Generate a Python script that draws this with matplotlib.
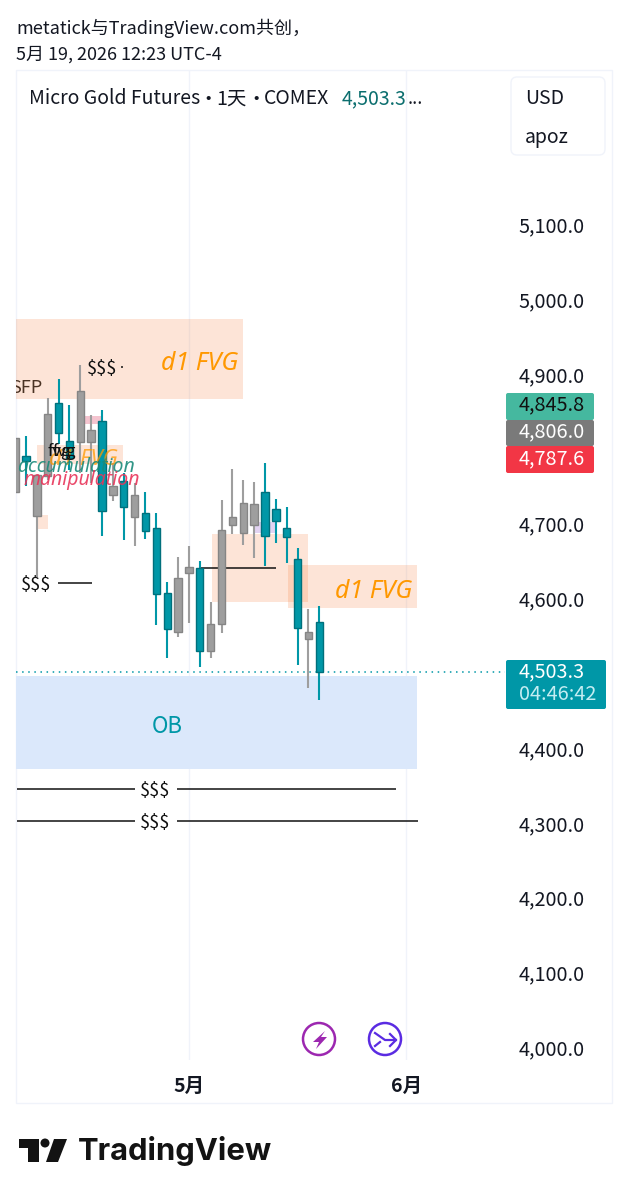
import numpy as np
import matplotlib
matplotlib.use('Agg')
import matplotlib.pyplot as plt
from matplotlib.patches import Rectangle, FancyBboxPatch, Circle, Polygon
from matplotlib.transforms import ScaledTranslation

plt.rcParams['font.family'] = ['Noto Sans CJK SC', 'DejaVu Sans']

# daily candles, index 15 = 1 May, index 35 = 1 June
opens = [4744, 4792, 4712, 4766, 4863, 4813, 4811, 4812, 4840, 4740, 4759, 4711, 4717, 4697, 4610,
         4557, 4636, 4643, 4532, 4568, 4701, 4690, 4701, 4745, 4722, 4696, 4655, 4548, 4571]
highs = [4817, 4820, 4767, 4870, 4896, 4861, 4914, 4848, 4854, 4783, 4770, 4757, 4745, 4717, 4624,
         4658, 4672, 4652, 4597, 4734, 4775, 4760, 4758, 4783, 4735, 4725, 4669, 4588, 4592]
lows = [4744, 4753, 4631, 4760, 4809, 4774, 4770, 4757, 4686, 4733, 4680, 4672, 4682, 4567, 4523,
        4551, 4570, 4510, 4522, 4556, 4689, 4673, 4656, 4645, 4676, 4649, 4513, 4483, 4467]
closes = [4817, 4786, 4767, 4849, 4824, 4790, 4879, 4828, 4719, 4752, 4724, 4740, 4693, 4608, 4561,
          4629, 4644, 4532, 4568, 4694, 4711, 4730, 4728, 4686, 4706, 4685, 4562, 4557, 4503.3]

last_price = 4503.3
price_ticks = [4000, 4100, 4200, 4300, 4400, 4600, 4700, 4900, 5000, 5100]
month_ticks = [15, 35]
month_labels = ['5月', '6月']

# zones: left, right, low, high
fvg_zones = [(-1, 20, 4869, 4976), (24.1, 36, 4590, 4647), (17.1, 26, 4598, 4688.5),
             (1, 8.9, 4782, 4807), (1, 2, 4695, 4714)]
pink_zone = (5.2, 7, 4836, 4846)
lavender_zone = (21.1, 23, 4690, 4705)
ob_zone = (-1, 36, 4374, 4499)

# liquidity lines: left, right, price
liq_lines = [(-0.83, 10.04, 4348), (13.9, 34.07, 4348), (-0.83, 10.04, 4305), (13.9, 36.1, 4305),
             (2.95, 6.08, 4623), (16.1, 23, 4643), (8.75, 8.9, 4912)]

TEAL = '#0097a7'
TEAL_EDGE = '#00707c'
GRAY = '#9e9e9e'
GRAY_EDGE = '#858585'
GRID = '#f0f3fa'
ORANGE = '#ff9800'
INK = '#131722'
LATIN = ['Noto Sans', 'DejaVu Sans']
W, H = 629, 1200

fig = plt.figure(figsize=(W / 100, H / 100), dpi=100, facecolor='white')

# overlay in pixels for the TradingView chrome
ov = fig.add_axes([0, 0, 1, 1], zorder=0)
ov.set_xlim(0, W)
ov.set_ylim(H, 0)
ov.axis('off')

ov.add_patch(Rectangle((16, 70), 596, 1033, fc='none', ec=GRID, lw=1))
ov.text(16, 28, 'metatick与TradingView.com共创，', fontsize=13, color=INK, va='center')
ov.text(16, 55, '5月 19, 2026 12:23 UTC-4', fontsize=13, color=INK, va='center')

# price axes
left, right, top, bottom = 16, 505, 70, 1060
ax = fig.add_axes([left / W, 1 - bottom / H, (right - left) / W, (bottom - top) / H], zorder=1)
ax.patch.set_alpha(0)
ax.set_xlim(-0.92, 44.1)
ax.set_ylim(3985, 5308.8)
for s in ax.spines.values():
    s.set_visible(False)

ax.set_xticks(month_ticks)
ax.set_xticklabels(month_labels, fontsize=14, color=INK, fontweight='bold')
ax.set_yticks(price_ticks)
ax.set_yticklabels([f'{p:,.1f}' for p in price_ticks], fontsize=14.3, color=INK, ha='left')
ax.yaxis.tick_right()
ax.tick_params(axis='y', length=0, pad=10)
ax.tick_params(axis='x', length=0, pad=12)
ax.grid(True, axis='x', color=GRID, lw=1)
ax.set_axisbelow(True)
# labels sit a little high of the tick in the reference
up = ScaledTranslation(0, 1.5 / 100, fig.dpi_scale_trans)
for lab in ax.get_yticklabels():
    lab.set_transform(lab.get_transform() + up)

for z in fvg_zones:
    ax.bar(z[0], z[3] - z[2], z[1] - z[0], z[2], align='edge', color='#f57c3a', alpha=0.2, lw=0, zorder=1)
ax.bar(pink_zone[0], pink_zone[3] - pink_zone[2], pink_zone[1] - pink_zone[0], pink_zone[2],
       align='edge', color='#f4c4cf', lw=0, zorder=1)
ax.bar(lavender_zone[0], lavender_zone[3] - lavender_zone[2], lavender_zone[1] - lavender_zone[0],
       lavender_zone[2], align='edge', color='#e2d3f2', lw=0, zorder=1)
ax.bar(ob_zone[0], ob_zone[3] - ob_zone[2], ob_zone[1] - ob_zone[0], ob_zone[2],
       align='edge', color='#dbe8fb', lw=0, zorder=1)

for l in liq_lines:
    ax.plot([l[0], l[1]], [l[2], l[2]], color='#111111', lw=1.1, zorder=2, solid_capstyle='butt')

x = np.arange(len(opens)) - 1
o, h, l_, c = map(np.array, (opens, highs, lows, closes))
down = c < o
colors = np.where(down, TEAL, GRAY)
edges = np.where(down, TEAL_EDGE, GRAY_EDGE)
ax.vlines(x, l_, h, colors=colors, lw=1.5, zorder=3)
ax.bar(x, np.abs(c - o), 0.68, np.minimum(o, c), color=colors, edgecolor=edges, lw=1.0, zorder=4)

ax.axhline(last_price, color=TEAL, lw=1.1, ls=(0, (1, 3)), zorder=2)

ax.text(16, 4917, 'd1 FVG', fontsize=18, style='italic', color=ORANGE, ha='center', va='center',
        family=LATIN, zorder=5)
ax.text(32, 4612, 'd1 FVG', fontsize=18, style='italic', color=ORANGE, ha='center', va='center',
        family=LATIN, zorder=5)
ax.text(13, 4431, 'OB', fontsize=16, color=TEAL, ha='center', va='center', zorder=5)
ax.text(11.9, 4345, '$$$', fontsize=13, color='#111111', ha='center', va='center', zorder=5)
ax.text(11.9, 4302, '$$$', fontsize=13, color='#111111', ha='center', va='center', zorder=5)
ax.text(0.92, 4620, '$$$', fontsize=13, color='#111111', ha='center', va='center', zorder=5)
ax.text(7, 4909, '$$$', fontsize=13, color='#111111', ha='center', va='center', zorder=5)
ax.text(1.47, 4883, 'SFP', fontsize=13, color='#4a3324', ha='right', va='center', zorder=5, clip_on=True)
ax.text(5.3, 4788, 'd1 FVG', fontsize=16, style='italic', color=ORANGE, ha='center', va='center',
        family=LATIN, alpha=0.75, zorder=5)
ax.text(3.1, 4799, 'fvg', fontsize=12, color='#111111', ha='center', va='center', zorder=5)
ax.text(3.5, 4799, 'fvg', fontsize=12, color='#111111', ha='center', va='center', zorder=5)
ax.text(4.6, 4778, 'accumulation', fontsize=14, style='italic', color='#1a8a7a', ha='center', va='center',
        family=LATIN, alpha=0.9, zorder=5)
ax.text(5.1, 4760, 'manipulation', fontsize=14, style='italic', color='#e8355a', ha='center', va='center',
        family=LATIN, alpha=0.9, zorder=5)

# top layer for legend, tags, icons and logo
top_ov = fig.add_axes([0, 0, 1, 1], zorder=2)
top_ov.set_xlim(0, W)
top_ov.set_ylim(H, 0)
top_ov.axis('off')
top_ov.patch.set_alpha(0)

for tx, s in [(29, 'Micro Gold Futures'), (198, '·'), (216, '1天'), (246, '·'), (264, 'COMEX')]:
    top_ov.text(tx, 99, s, fontsize=14, color=INK, va='center')
top_ov.text(342, 99, '4,503.3', fontsize=14, color='#0b6e6e', va='center')
top_ov.text(408, 99, '...', fontsize=13, color=INK, va='center')
top_ov.add_patch(FancyBboxPatch((514, 80), 88, 72, boxstyle='round,pad=3,rounding_size=6', fc='white', ec=GRID, lw=1))
top_ov.text(525, 99, 'USD', fontsize=14, color=INK, va='center')
top_ov.text(525, 137, 'apoz', fontsize=14, color=INK, va='center')


def tag(y0, y1, x1, color):
    top_ov.add_patch(FancyBboxPatch((508, y0 + 2), x1 - 510, y1 - y0 - 4, boxstyle='round,pad=2,rounding_size=2', fc=color, ec='none'))


tag(393, 420, 594, '#45b89f')
tag(420, 446, 594, '#7a7a7a')
tag(446, 473, 594, '#f23645')
tag(660, 709, 606, TEAL)
top_ov.text(519, 405, '4,845.8', fontsize=14.3, color='#111111', va='center')
top_ov.text(519, 432, '4,806.0', fontsize=14.3, color='white', va='center')
top_ov.text(519, 459, '4,787.6', fontsize=14.3, color='white', va='center')
top_ov.text(519, 672, '4,503.3', fontsize=14.3, color='white', va='center')
top_ov.text(519, 694, '04:46:42', fontsize=14.3, color='#c4edf2', va='center')

# flash and arrow icons
top_ov.add_patch(Circle((319, 1039), 16, fc='white', ec='#9c27b0', lw=1.8))
top_ov.add_patch(Polygon([(325, 1031), (313, 1042), (319, 1042), (316, 1049), (327, 1037), (321, 1037)], fc='#9c27b0', ec='none'))
top_ov.add_patch(Circle((385, 1039), 16, fc='white', ec='#5a2be2', lw=1.8))
top_ov.plot([375, 385, 396], [1033, 1040, 1040], color='#5a2be2', lw=1.6)
top_ov.plot([375, 380], [1046, 1042], color='#5a2be2', lw=1.6)
top_ov.plot([390, 396, 390], [1034, 1040, 1046], color='#5a2be2', lw=1.6)

# logo
top_ov.add_patch(Polygon([(19, 1139), (39, 1139), (39, 1162), (28, 1162), (28, 1148), (19, 1148)], fc='#131313', ec='none'))
top_ov.add_patch(Circle((45, 1143), 4.5, fc='#131313', ec='none'))
top_ov.add_patch(Polygon([(54, 1139), (67, 1139), (58, 1162), (46, 1162)], fc='#131313', ec='none'))
top_ov.text(78, 1151, 'TradingView', fontsize=22.3, fontweight='bold', color='#131313', va='center',
            family=['Inter', 'DejaVu Sans'])

fig.savefig('out.png', dpi=100)
